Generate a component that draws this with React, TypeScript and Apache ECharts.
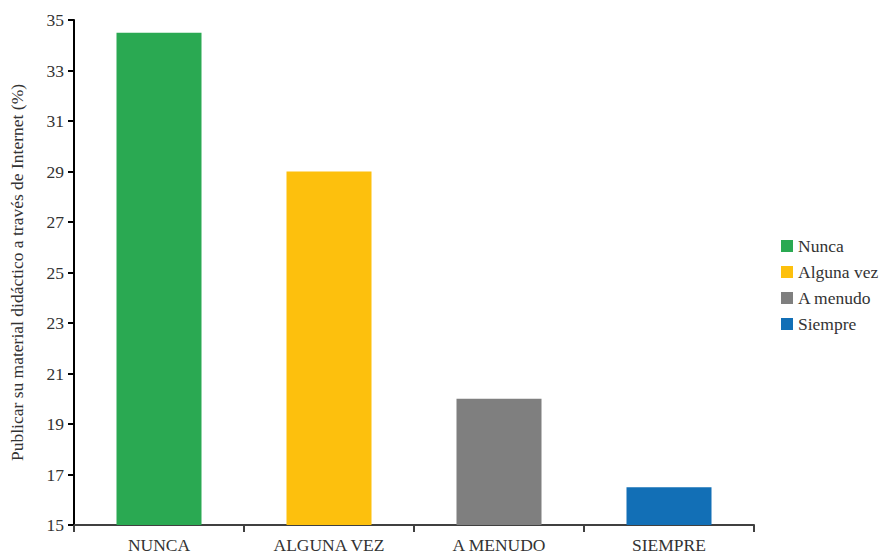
import React, { useEffect, useRef } from "react";
import * as echarts from "echarts";

const categories = ["NUNCA", "ALGUNA VEZ", "A MENUDO", "SIEMPRE"];
const seriesNames = ["Nunca", "Alguna vez", "A menudo", "Siempre"];
const values = [34.5, 29, 20, 16.5];
const colors = ["#2aa952", "#fdc00d", "#7f7f7f", "#126fb6"];
const yTicks = { min: 15, max: 35, interval: 2 };
const yName = "Publicar su material didáctico a través de Internet (%)";

export default function App() {
  const ref = useRef<HTMLDivElement>(null);
  useEffect(() => {
    if (!ref.current) return;
    const chart = echarts.init(ref.current, null, { renderer: "svg" });
    const font = "'Liberation Serif', 'Times New Roman', serif";
    chart.setOption({
      animation: false,
      textStyle: { fontFamily: font },
      grid: { left: 73, right: 125, top: 20, bottom: 28, containLabel: false },
      legend: {
        orient: "vertical",
        left: 776,
        top: 232,
        itemWidth: 12,
        itemHeight: 12,
        itemGap: 8,
        icon: "rect",
        data: seriesNames,
        textStyle: { fontFamily: font, fontSize: 17.5, color: "#333" },
      },
      xAxis: {
        type: "category",
        data: categories,
        boundaryGap: true,
        axisLine: { lineStyle: { color: "#404040", width: 2 } },
        axisTick: { show: true, length: 7, lineStyle: { color: "#404040", width: 2 } },
        axisLabel: { fontFamily: font, fontSize: 17.5, color: "#333", margin: 11 },
      },
      yAxis: {
        type: "value",
        min: yTicks.min,
        max: yTicks.max,
        interval: yTicks.interval,
        name: yName,
        nameLocation: "middle",
        nameGap: 48,
        nameTextStyle: { fontFamily: font, fontSize: 17.5, color: "#333" },
        splitLine: { show: false },
        axisLine: { show: true, lineStyle: { color: "#000", width: 2 } },
        axisTick: { show: true, length: 6, lineStyle: { color: "#000", width: 2 } },
        axisLabel: { fontFamily: font, fontSize: 17.5, color: "#333", margin: 10 },
      },
      series: seriesNames.map((name, i) => ({
        name,
        type: "bar",
        barWidth: "50%",
        barGap: "-100%",
        itemStyle: { color: colors[i] },
        data: categories.map((_, j) => (j === i ? values[i] : "-")),
      })),
    });
    return () => chart.dispose();
  }, []);
  return <div ref={ref} style={{ width: 879, height: 554, position: "absolute", left: 0, top: 0, background: "#fff" }} />;
}
